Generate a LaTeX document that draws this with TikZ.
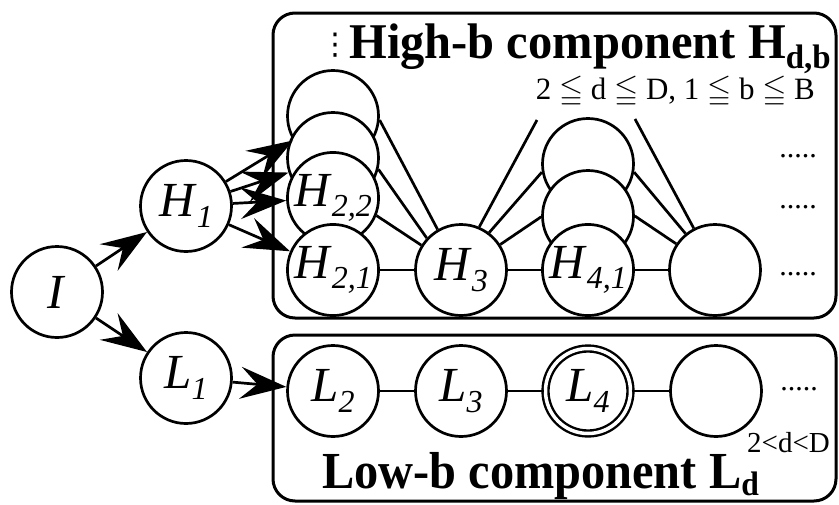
\documentclass[tikz,border=0pt]{standalone}
\usepackage{fontspec}
\usepackage{amssymb}
\setmainfont{Liberation Serif}
\newfontfamily\dotsfont{DejaVu Sans}
\usetikzlibrary{arrows.meta}

\newcommand{\sublab}[2]{\textit{#1}\raisebox{-0.22em}{\fontsize{32}{32}\selectfont\textit{#2}}}
\newcommand{\boldsub}[2]{\raisebox{#1}{\fontsize{34}{34}\selectfont\bfseries #2}}

\begin{document}
\begin{tikzpicture}[x=1pt,y=-1pt,
    state/.style={circle,draw,line width=2.7pt,minimum size=91pt,inner sep=0pt,fill=white,
      font=\fontsize{49}{49}\selectfont},
    final/.style={state,double,line width=2.4pt,double distance=3.5pt,minimum size=85pt},
    edge/.style={line width=2.7pt},
    arc/.style={edge,-{Stealth[length=46pt,width=32pt,inset=17pt]}},
    comp/.style={draw,line width=3pt,rounded corners=22pt},
    more/.style={anchor=base,font=\fontsize{30}{30}\selectfont}]
  \useasboundingbox (0,0) rectangle (839,504);

  % the two components
  \draw[comp] (273,13) rectangle (836,318);
  \draw[comp] (273,335) rectangle (836,501);

  \node[state] (I)  at (57,292)  {\textit{I}};
  \node[state] (H1) at (186,206) {\sublab{H}{1}};
  \node[state] (L1) at (186,378) {\sublab{L}{1}};

  % high-b component
  \node[state] (H2d) at (333,116) {};
  \node[state] (H2c) at (333,158) {};
  \node[state] (H22) at (333,198) {\sublab{H}{2,2}};
  \node[state] (H21) at (333,270) {\sublab{H}{2,1}};
  \node[state] (H3)  at (461,270) {\sublab{H}{3}};
  \node[state] (H4c) at (588,164) {};
  \node[state] (H4b) at (588,216) {};
  \node[state] (H41) at (588,270) {\sublab{H}{4,1}};
  \node[state] (H5)  at (715,270) {};
  \coordinate (h4top) at (537,120);
  \coordinate (h5top) at (635,119);

  % low-b component
  \node[state] (L2) at (333,391) {\sublab{L}{2}};
  \node[state] (L3) at (461,391) {\sublab{L}{3}};
  \node[final] (L4) at (588,391) {\sublab{L}{4}};
  \node[state] (L5) at (716,391) {};

  \draw[edge] (H21) -- (H3);
  \draw[edge] (H3) -- (H41);
  \draw[edge] (H41) -- (H5);
  \draw[edge] (H2d.-5) -- (H3.120);
  \draw[edge] (H2c.-14) -- (H3.137);
  \draw[edge] (H22.-22) -- (H3.148);
  \draw[edge] (H3.67) -- (h4top);
  \draw[edge] (H3.53) -- (H4c.190);
  \draw[edge] (H3.33) -- (H4b.181);
  \draw[edge] (h5top) -- (H5.117);
  \draw[edge] (H4c.-10) -- (H5.129);
  \draw[edge] (H4b.0) -- (H5.146);
  \draw[edge] (L2) -- (L3);
  \draw[edge] (L3) -- (L4);
  \draw[edge] (L4) -- (L5);

  \draw[arc] (I) -- (H1);
  \draw[arc] (I) -- (L1);
  \draw[arc] (H1) -- (H2d);
  \draw[arc] (H1) -- (H2c);
  \draw[arc] (H1) -- (H22);
  \draw[arc] (H1) -- (H21);
  \draw[arc] (L1) -- (L2);

  % texts
  \node[anchor=base, inner sep=0pt, font=\fontsize{30}{30}\dotsfont] (hvd) at (335,54) {⋮};
  \node[anchor=base east, inner sep=0pt,
    font=\fontsize{50}{50}\selectfont\bfseries\addfontfeatures{FakeStretch=0.97}] (htitle) at (831,58)
    {High-b component H\boldsub{-0.2em}{d,b}};
  \node[anchor=base east, inner sep=0pt, font=\fontsize{31}{31}\selectfont] (hrange) at (815,99)
    {2 $\leqq$ d $\leqq$ D, 1 $\leqq$ b $\leqq$ B};
  \node[more] (hm1) at (798,157) {.....};
  \node[more] (hm2) at (798,208) {.....};
  \node[more] (hm3) at (798,275) {.....};
  \node[more] (lm)  at (799,390) {.....};
  \node[anchor=base east, inner sep=0pt, font=\fontsize{29}{29}\selectfont] (lrange) at (830,452) {2<d<D};
  \node[anchor=base west, inner sep=0pt,
    font=\fontsize{52}{52}\selectfont\bfseries\addfontfeatures{FakeStretch=0.93}] (ltitle) at (322,488)
    {Low-b component L\boldsub{-0.15em}{d}};
\end{tikzpicture}
\end{document}
